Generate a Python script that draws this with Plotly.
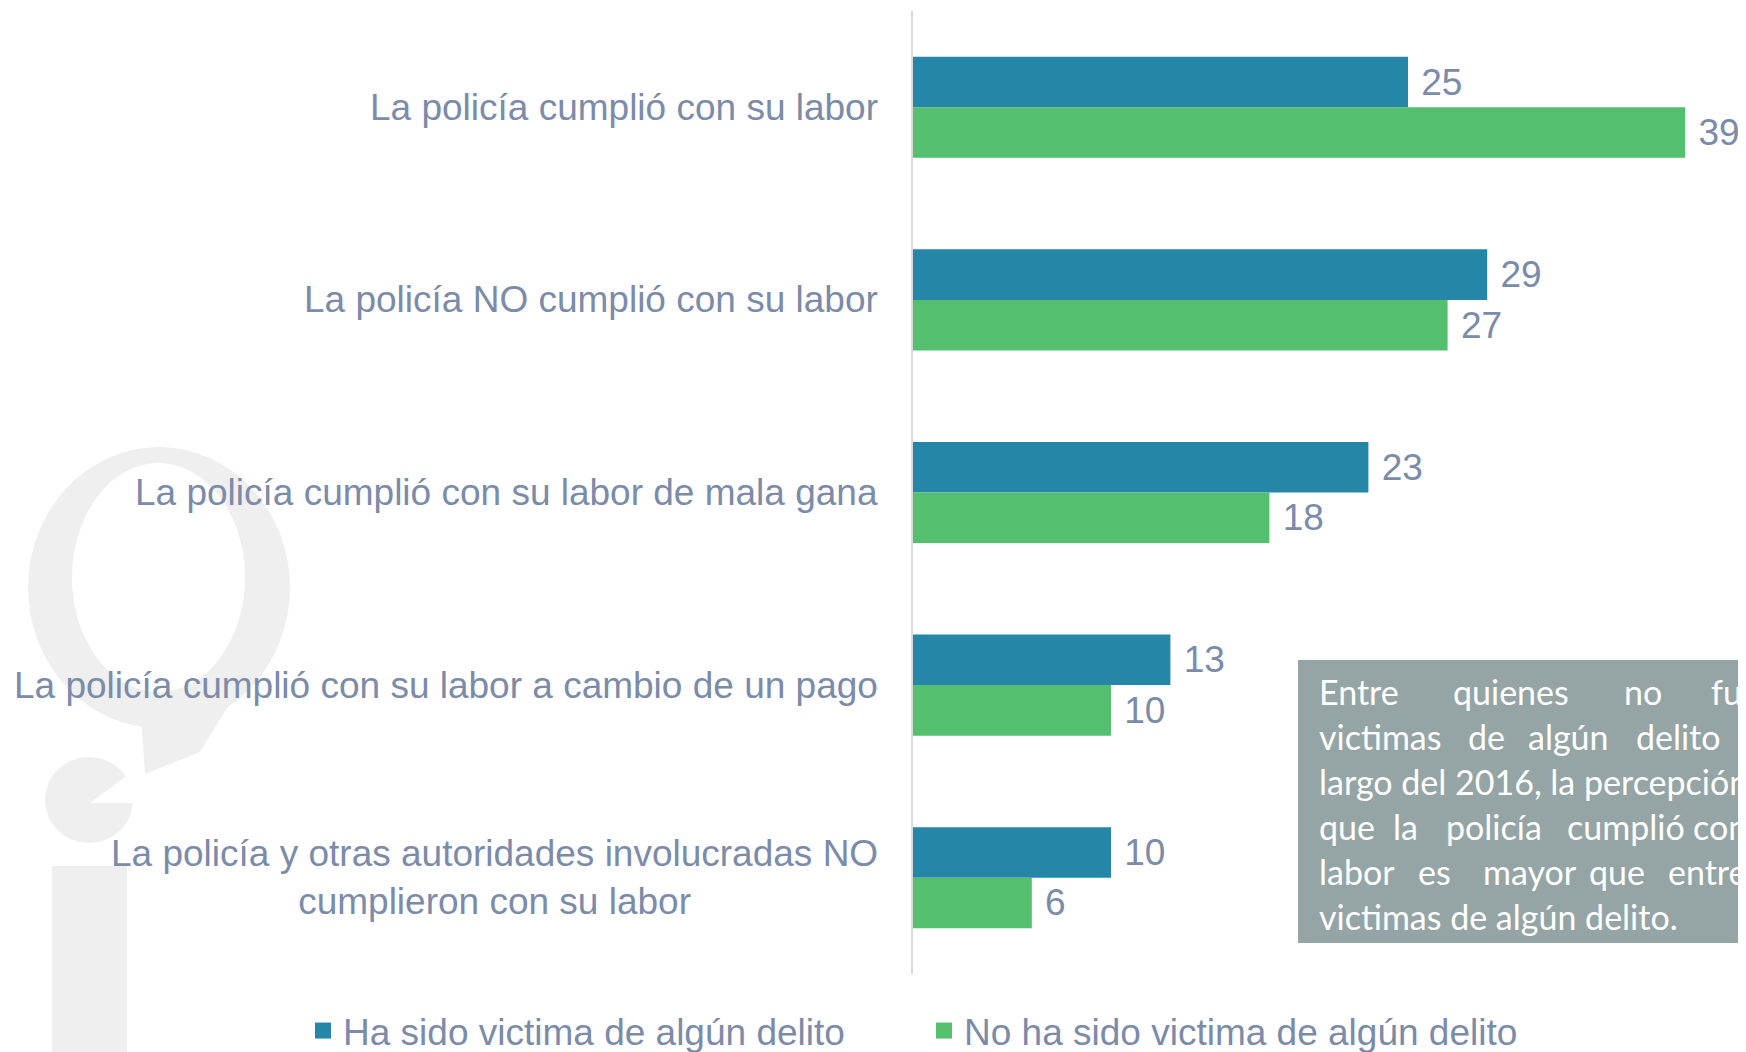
import plotly.graph_objects as go

categories = [
    "La policía cumplió con su labor",
    "La policía NO cumplió con su labor",
    "La policía cumplió con su labor de mala gana",
    "La policía cumplió con su labor a cambio de un pago",
    "La policía y otras autoridades involucradas NO<br>cumplieron con su labor",
]
victima = [25, 29, 23, 13, 10]
no_victima = [39, 27, 18, 10, 6]
series_names = ["Ha sido victima de algún delito", "No ha sido victima de algún delito"]

box_lines = [
    ["Entre", "quienes", "no", "fueron"],
    ["victimas", "de", "algún", "delito"],
    ["largo del 2016, la percepción"],
    ["que", "la", "policía", "cumplió", "con"],
    ["labor", "es", "mayor", "que", "entre"],
    ["victimas de algún delito."],
]
box_word_x = [
    [1318, 1452, 1623, 1710],
    [1318, 1467, 1527, 1635],
    [1318],
    [1318, 1392, 1445, 1566, 1692],
    [1318, 1417, 1482, 1588, 1667],
    [1318],
]

# page offset (body margin) compensation: figure drawn at page (8, 8)
OFF = 8
W, H = 1746 - OFF, 1052 - OFF
L, R, T = 913 - OFF, 0, 11 - OFF
B = H - (974 - OFF)
PW, PH = W - L - R, H - T - B

def px(x):
    return (x - OFF - L) / PW

def py(y):
    return (H - B - (y - OFF)) / PH

BLUE = "#2586A7"
GREEN = "#53BF6F"
TXT = "#7B8BA8"
FONT = "Liberation Sans, Arial, sans-serif"

fig = go.Figure()
for name, vals, col in [(series_names[0], victima, BLUE), (series_names[1], no_victima, GREEN)]:
    fig.add_trace(go.Bar(
        y=categories, x=vals, orientation="h", name=name, showlegend=False,
        marker=dict(color=col, line=dict(width=0)),
        texttemplate="\u00a0%{x}", textposition="outside", cliponaxis=False,
        constraintext="none", textfont=dict(size=37, color=TXT, family=FONT),
    ))
for name, col in [(series_names[0], BLUE), (series_names[1], GREEN)]:
    fig.add_trace(go.Scatter(
        x=[None], y=[None], mode="markers", name=name,
        marker=dict(symbol="square", size=19, color=col),
    ))

shapes = []
WM = "#EFEFEF"
def P(pts):
    return "M " + " L ".join(f"{px(a)} {py(b)}" for a, b in pts) + " Z"
# watermark logo
shapes.append(dict(type="circle", xref="paper", yref="paper", layer="below",
                   x0=px(28), x1=px(290), y0=py(728), y1=py(447),
                   fillcolor=WM, line=dict(width=0)))
shapes.append(dict(type="path", xref="paper", yref="paper", layer="below",
                   path=P([(140, 700), (238, 690), (200, 752), (145, 774)]),
                   fillcolor=WM, line=dict(width=0)))
shapes.append(dict(type="circle", xref="paper", yref="paper", layer="below",
                   x0=px(72), x1=px(245), y0=py(692), y1=py(463),
                   fillcolor="white", line=dict(width=0)))
shapes.append(dict(type="circle", xref="paper", yref="paper", layer="below",
                   x0=px(45), x1=px(133), y0=py(843), y1=py(757),
                   fillcolor=WM, line=dict(width=0)))
shapes.append(dict(type="path", xref="paper", yref="paper", layer="below",
                   path=P([(90, 803), (140, 766), (140, 803)]),
                   fillcolor="white", line=dict(width=0)))
shapes.append(dict(type="rect", xref="paper", yref="paper", layer="below",
                   x0=px(52), x1=px(127), y0=py(1070), y1=py(866),
                   fillcolor=WM, line=dict(width=0)))
# text box
shapes.append(dict(type="rect", xref="paper", yref="paper", layer="above",
                   x0=px(1298), x1=px(1770), y0=py(943), y1=py(660),
                   fillcolor="#95A5A5", line=dict(width=0)))

annotations = []
for c in categories:
    annotations.append(dict(
        x=px(880), xref="paper", y=c, yref="y", xanchor="right", yanchor="middle",
        text=c, align="center", showarrow=False,
        font=dict(size=37, color=TXT, family=FONT),
    ))
baselines = [703, 748, 793, 838, 883, 928]
for words, xs, bl in zip(box_lines, box_word_x, baselines):
    for w, x in zip(words, xs):
        annotations.append(dict(
            x=px(x), xref="paper", y=py(bl - 12), yref="paper",
            xanchor="left", yanchor="middle", text=w, showarrow=False,
            borderpad=0,
            font=dict(size=34, color="white", family="Lato, Carlito, sans-serif"),
        ))

fig.update_layout(
    width=W, height=H,
    margin=dict(l=L, r=R, t=T, b=B, autoexpand=False),
    paper_bgcolor="white", plot_bgcolor="white",
    barmode="group", bargap=0.475, bargroupgap=0,
    xaxis=dict(range=[0, PW / 19.8], visible=False),
    yaxis=dict(type="category", autorange="reversed", showticklabels=False,
               showline=True, linecolor="#D9D9D9", linewidth=2, showgrid=False,
               ticks="", zeroline=False),
    legend=dict(orientation="h", x=px(303), xanchor="left", y=py(1031), yanchor="middle",
                font=dict(size=37, color=TXT, family=FONT),
                itemwidth=30, entrywidth=576, entrywidthmode="pixels",
                tracegroupgap=0, bgcolor="rgba(0,0,0,0)"),
    shapes=shapes, annotations=annotations,
    showlegend=True,
)

fig.write_html("out.html")
